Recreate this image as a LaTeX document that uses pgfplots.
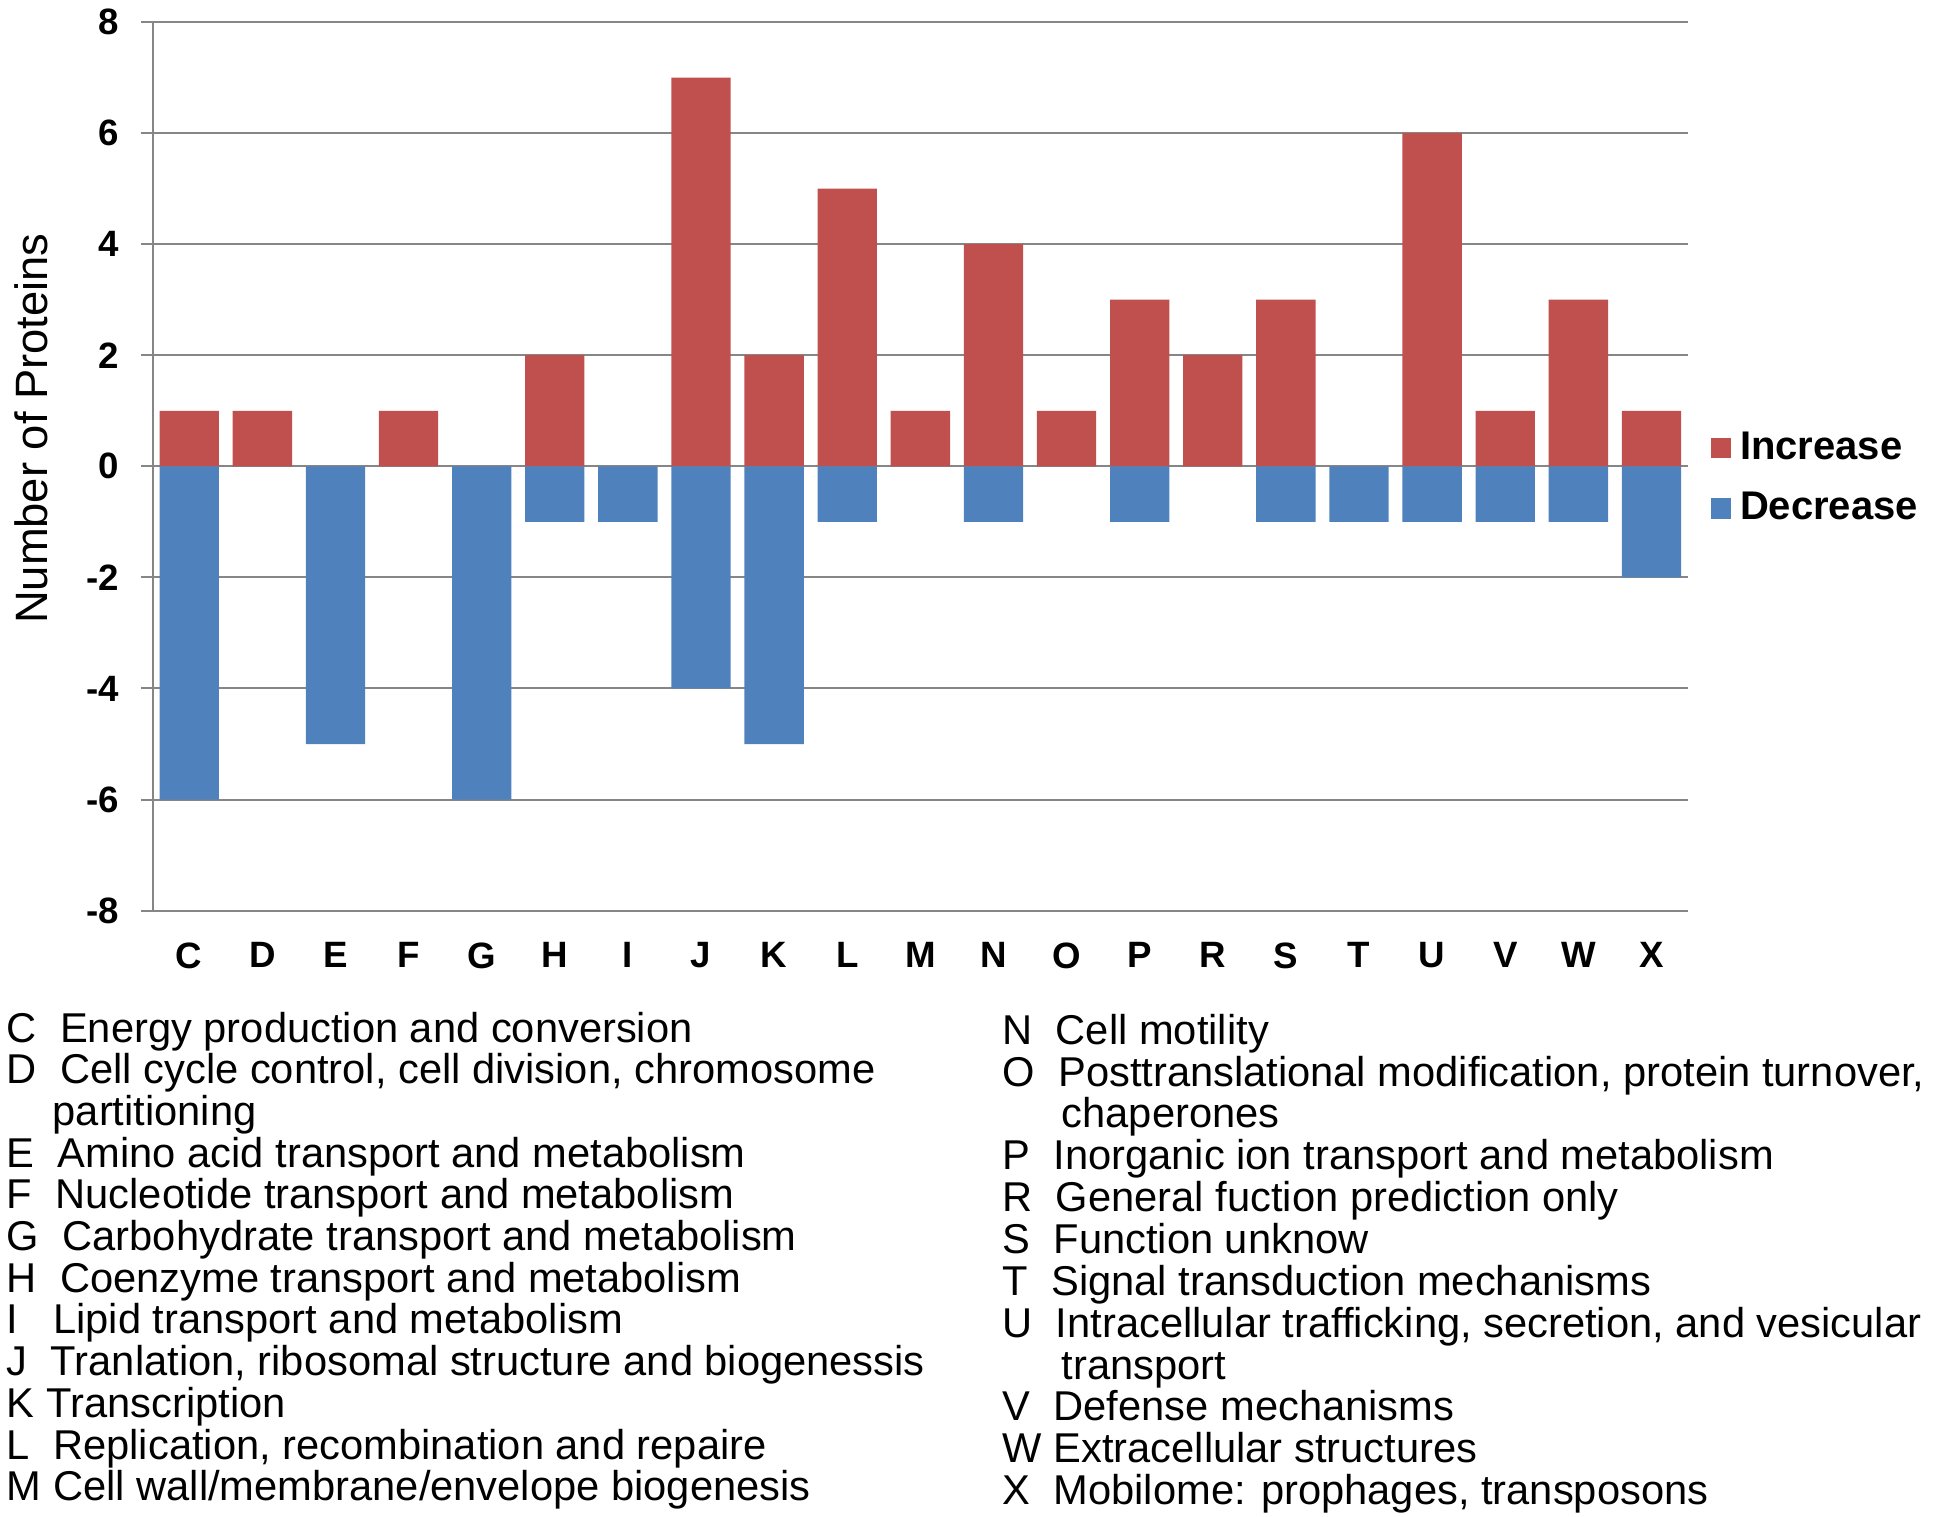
\documentclass[border=0pt]{standalone}
\usepackage{fontspec}
\setmainfont{Liberation Sans}
\usepackage{pgfplots}
\pgfplotsset{compat=1.18}

\definecolor{incred}{HTML}{C0504D}
\definecolor{decblue}{HTML}{4F81BD}
\definecolor{gridgray}{HTML}{868686}

\newcommand{\descfont}{\fontsize{12.5}{12.5}\selectfont}
\newcommand{\desc}[3]{\node[anchor=base west, inner sep=0pt, font=\descfont] at (#1pt,#2pt) {#3};}

\begin{document}
\begin{tikzpicture}
\path[use as bounding box] (0,0) rectangle (580.2pt,454.8pt);
\begin{axis}[
    at={(45.8pt,181.6pt)}, anchor=south west,
    scale only axis,
    width=460.6pt, height=266.6pt,
    xmin=-0.5, xmax=20.5,
    ymin=-8, ymax=8,
    xtick={0,...,20},
    xticklabels={C,D,E,F,G,H,I,J,K,L,M,N,O,P,R,S,T,U,V,W,X},
    ytick={-8,-6,...,8},
    axis lines=left,
    axis line style={-, draw=gridgray, line width=0.6pt},
    ymajorgrids=true,
    grid style={gridgray, line width=0.6pt},
    xtick style={draw=none},
    ytick style={draw=gridgray, line width=0.6pt},
    tick align=outside,
    major tick length=3.6pt,
    /pgf/number format/assume math mode=true,
    ticklabel style={font=\bfseries\fontsize{11}{13}\selectfont},
    xticklabel style={yshift=-2.4pt},
    yticklabel style={xshift=-3pt},
    legend style={at={(1,0.4865)}, anchor=west, xshift=6.6pt,
        draw=none, fill=none, inner sep=0pt,
        font=\bfseries\fontsize{12}{14}\selectfont,
        row sep=6.4pt,
        nodes={inner sep=1pt},
        /tikz/every odd column/.append style={column sep=1.6pt}},
    legend cell align=left,
]
% Increase
\addplot[ybar, bar width=17.8pt, bar shift=0pt, fill=incred, draw=none,
    legend image code/.code={\fill[incred] (0pt,-3.1pt) rectangle (6.2pt,3.1pt);}]
    coordinates {
    (0,1) (1,1) (2,0) (3,1) (4,0) (5,2) (6,0) (7,7) (8,2) (9,5) (10,1)
    (11,4) (12,1) (13,3) (14,2) (15,3) (16,0) (17,6) (18,1) (19,3) (20,1)
};
% Decrease
\addplot[ybar, bar width=17.8pt, bar shift=0pt, fill=decblue, draw=none,
    legend image code/.code={\fill[decblue] (0pt,-3.1pt) rectangle (6.2pt,3.1pt);}]
    coordinates {
    (0,-6) (1,0) (2,-5) (3,0) (4,-6) (5,-1) (6,-1) (7,-4) (8,-5) (9,-1) (10,0)
    (11,-1) (12,0) (13,-1) (14,0) (15,-1) (16,-1) (17,-1) (18,-1) (19,-1) (20,-2)
};
\legend{Increase,Decrease}
\end{axis}

\node[rotate=90, font=\fontsize{13.6}{16}\selectfont] at (9.3pt,326.2pt) {Number of Proteins};

% left column
\desc{1.9}{142.1}{C~~Energy production and conversion}
\desc{1.9}{129.6}{D~~Cell cycle control, cell division, chromosome}
\desc{15.6}{117.1}{partitioning}
\desc{1.9}{104.6}{E~~Amino acid transport and metabolism}
\desc{1.9}{92.1}{F~~Nucleotide transport and metabolism}
\desc{1.9}{79.6}{G~~Carbohydrate transport and metabolism}
\desc{1.9}{67.1}{H~~Coenzyme transport and metabolism}
\desc{1.9}{54.6}{I~~~Lipid transport and metabolism}
\desc{1.9}{42.1}{J~~Tranlation, ribosomal structure and biogenessis}
\desc{1.9}{29.6}{K Transcription}
\desc{1.9}{17.1}{L~~Replication, recombination and repaire}
\desc{1.9}{4.6}{M Cell wall/membrane/envelope biogenesis}

% right column
\desc{300.6}{141.5}{N~~Cell motility}
\desc{300.6}{128.95}{O~~Posttranslational modification, protein turnover,}
\desc{318.3}{116.4}{chaperones}
\desc{300.6}{103.85}{P~~Inorganic ion transport and metabolism}
\desc{300.6}{91.3}{R~~General fuction prediction only}
\desc{300.6}{78.75}{S~~Function unknow}
\desc{300.6}{66.2}{T~~Signal transduction mechanisms}
\desc{300.6}{53.65}{U~~Intracellular trafficking, secretion, and vesicular}
\desc{318.3}{41.1}{transport}
\desc{300.6}{28.55}{V~~Defense mechanisms}
\desc{300.6}{16.0}{W Extracellular structures}
\desc{300.6}{3.45}{X~~Mobilome: prophages, transposons}
\end{tikzpicture}
\end{document}
